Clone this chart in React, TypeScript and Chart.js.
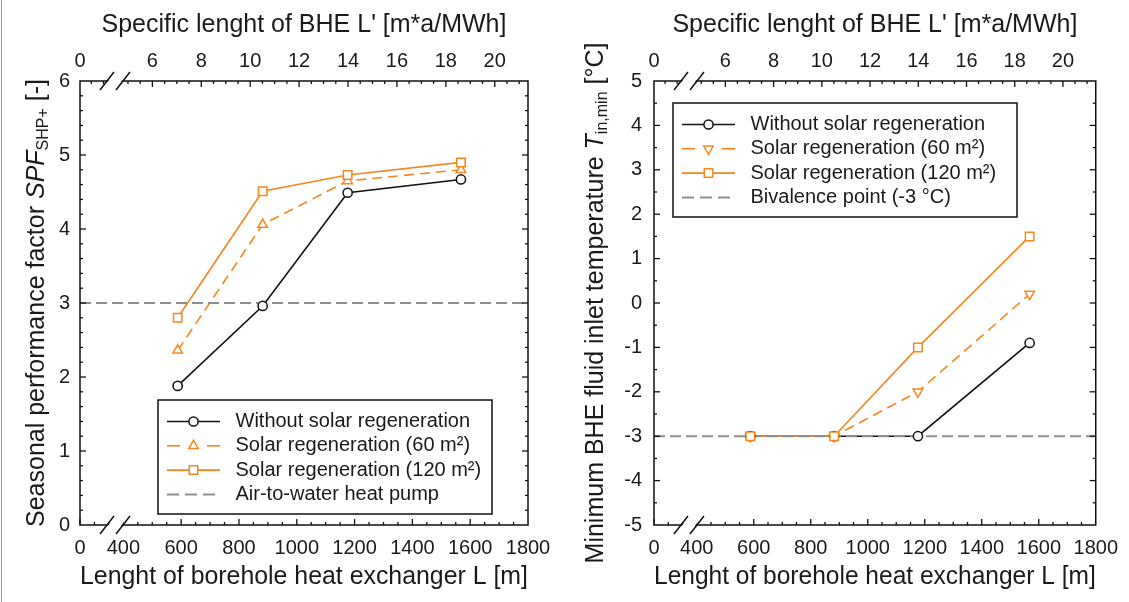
import React, { useEffect, useRef } from 'react';
import { Chart, registerables } from 'chart.js';

Chart.register(...registerables);

const FONT = '"Liberation Sans", Arial, Helvetica, sans-serif';
const TEXT = '#1a1a1a';
const BLACK = '#111111';
const ORANGE = '#F6861F';
const GRAY = '#8E8E8E';

// ---------------- data ----------------
const boreholeLength = [588, 882, 1176, 1568]; // L [m]

const spfWithoutSolar = [1.88, 2.96, 4.49, 4.67];
const spfSolar60 = [2.36, 4.06, 4.65, 4.8];
const spfSolar120 = [2.8, 4.51, 4.73, 4.9];
const spfAirToWater = 3.0;

const tinWithoutSolar = [-3, -3, -3, -0.9];
const tinSolar60 = [-3, -3, -2.0, 0.2];
const tinSolar120 = [-3, -3, -1.0, 1.5];
const tinBivalence = -3;

// ---------------- axes ----------------
const lengthAxisMin = 250; // position of the broken "0"
const lengthAxisMax = 1800;
const lengthTicks = [250, 400, 600, 800, 1000, 1200, 1400, 1600, 1800];
const lengthTickLabels = ['0', '400', '600', '800', '1000', '1200', '1400', '1600', '1800'];
const lengthMinorStep = 50;

const specificAxisMin = 3.04; // position of the broken "0"
const specificAxisMax = 21.36;
const specificTicks = [3.04, 6, 8, 10, 12, 14, 16, 18, 20];
const specificTickLabels = ['0', '6', '8', '10', '12', '14', '16', '18', '20'];
const specificMinorStep = 0.5;

const spfAxis = { min: 0, max: 6, step: 1, minor: 0.2 };
const tinAxis = { min: -5, max: 5, step: 1, minor: 0.5 };

const legendSpf = ['Without solar regeneration', 'Solar regeneration (60 m²)', 'Solar regeneration (120 m²)', 'Air-to-water heat pump'];
const legendTin = ['Without solar regeneration', 'Solar regeneration (60 m²)', 'Solar regeneration (120 m²)', 'Bivalence point (-3 °C)'];

const bottomTitle = 'Lenght of borehole heat exchanger L [m]';
const topTitle = "Specific lenght of BHE L' [m*a/MWh]";

// ---------------- helpers ----------------
type Part = { text: string; font: string; dy: number };

function drawMarker(ctx: CanvasRenderingContext2D, style: string, x: number, y: number, r: number, rotation: number, color: string) {
  ctx.save();
  ctx.setLineDash([]);
  ctx.fillStyle = '#ffffff';
  ctx.strokeStyle = color;
  ctx.lineWidth = 1.5;
  ctx.beginPath();
  if (style === 'circle') {
    ctx.arc(x, y, r, 0, Math.PI * 2);
  } else if (style === 'rect') {
    const s = r * Math.SQRT1_2;
    ctx.rect(x - s, y - s, 2 * s, 2 * s);
  } else {
    const rad = (rotation * Math.PI) / 180;
    for (let i = 0; i < 3; i++) {
      const ang = rad + (i * 2 * Math.PI) / 3;
      const px = x + Math.sin(ang) * r;
      const py = y - Math.cos(ang) * r;
      if (i === 0) ctx.moveTo(px, py);
      else ctx.lineTo(px, py);
    }
    ctx.closePath();
  }
  ctx.fill();
  ctx.stroke();
  ctx.restore();
}

type Series = { label: string; values: number[]; color: string; dashed: boolean; style: string; radius: number; rotation: number };

type PanelSpec = {
  yAxis: { min: number; max: number; step: number; minor: number };
  series: Series[]; // ordered: 120, 60, without (top to bottom markers)
  legendOrder: Series[];
  refValue: number;
  refLabel: string;
  yTitle: Part[];
  yTitleX: number;
  yTickPadding: number;
  rightPadding: number;
  legendBox: { x: number; y: number; w: number; h: number };
};

function makePlugin(spec: PanelSpec) {
  return {
    id: 'frameAndDecor',
    afterDatasetsDraw(chart: any) {
      const { ctx, chartArea: a, scales } = chart;
      const seg = (x1: number, y1: number, x2: number, y2: number) => {
        ctx.beginPath();
        ctx.moveTo(x1, y1);
        ctx.lineTo(x2, y2);
        ctx.stroke();
      };
      const near = (v: number, list: number[]) => list.some((m) => Math.abs(m - v) < 1e-6);
      ctx.save();
      ctx.setLineDash([]);
      ctx.strokeStyle = BLACK;
      ctx.lineWidth = 1.5;
      ctx.strokeRect(a.left, a.top, a.right - a.left, a.bottom - a.top);

      ctx.lineWidth = 1.3;
      // bottom axis ticks
      const xs = scales.x;
      for (let v = Math.ceil(xs.min / lengthMinorStep) * lengthMinorStep; v < xs.max - 1e-6; v += lengthMinorStep) {
        const px = xs.getPixelForValue(v);
        const len = near(v, lengthTicks) ? 6 : 3;
        seg(px, a.bottom, px, a.bottom - len);
      }
      // top axis ticks
      const xt = scales.x2;
      for (let v = Math.ceil(xt.min / specificMinorStep) * specificMinorStep; v < xt.max - 1e-6; v += specificMinorStep) {
        const px = xt.getPixelForValue(v);
        const len = near(v, specificTicks) ? 6 : 3;
        seg(px, a.top, px, a.top + len);
      }
      // y ticks on both sides
      const ys = scales.y;
      const ya = spec.yAxis;
      const n = Math.round((ya.max - ya.min) / ya.minor);
      for (let i = 1; i < n; i++) {
        const v = ya.min + i * ya.minor;
        const py = ys.getPixelForValue(v);
        const k = (v - ya.min) / ya.step;
        const major = Math.abs(k - Math.round(k)) < 1e-6;
        const len = major ? 6 : 3;
        seg(a.left, py, a.left + len, py);
        seg(a.right, py, a.right - len, py);
      }

      // axis breaks
      const drawBreak = (y: number) => {
        const c1 = a.left + 27;
        const c2 = a.left + 43;
        const dx = 7;
        const dy = 9;
        ctx.fillStyle = '#ffffff';
        ctx.beginPath();
        ctx.moveTo(c1 - dx + 1.5, y + dy);
        ctx.lineTo(c1 + dx + 1.5, y - dy);
        ctx.lineTo(c2 + dx - 1.5, y - dy);
        ctx.lineTo(c2 - dx - 1.5, y + dy);
        ctx.closePath();
        ctx.fill();
        ctx.strokeStyle = BLACK;
        ctx.lineWidth = 1.5;
        seg(c1 - dx, y + dy, c1 + dx, y - dy);
        seg(c2 - dx, y + dy, c2 + dx, y - dy);
      };
      drawBreak(a.bottom);
      drawBreak(a.top);
      ctx.restore();
    },
    afterDraw(chart: any) {
      const { ctx, chartArea: a } = chart;
      ctx.save();
      // y title with italic symbol and subscript
      ctx.translate(spec.yTitleX, (a.top + a.bottom) / 2);
      ctx.rotate(-Math.PI / 2);
      ctx.fillStyle = TEXT;
      ctx.textBaseline = 'alphabetic';
      ctx.textAlign = 'left';
      let total = 0;
      for (const p of spec.yTitle) {
        ctx.font = p.font;
        total += ctx.measureText(p.text).width;
      }
      let x = -total / 2;
      for (const p of spec.yTitle) {
        ctx.font = p.font;
        ctx.fillText(p.text, x, p.dy);
        x += ctx.measureText(p.text).width;
      }
      ctx.restore();

      // legend
      const b = spec.legendBox;
      ctx.save();
      ctx.fillStyle = '#ffffff';
      ctx.fillRect(b.x, b.y, b.w, b.h);
      ctx.strokeStyle = BLACK;
      ctx.lineWidth = 1.5;
      ctx.setLineDash([]);
      ctx.strokeRect(b.x, b.y, b.w, b.h);
      const x0 = b.x + 9;
      const x1 = b.x + 62;
      const xm = b.x + 35.5;
      ctx.font = `20px ${FONT}`;
      ctx.textBaseline = 'middle';
      ctx.textAlign = 'left';
      const rows = [...spec.legendOrder.map((s) => ({ ...s, ref: false })), { label: spec.refLabel, color: GRAY, dashed: true, style: '', radius: 0, rotation: 0, values: [], ref: true }];
      rows.forEach((s, i) => {
        const y = b.y + 21.5 + i * 24.3;
        ctx.strokeStyle = s.color;
        if (s.ref) {
          ctx.lineWidth = 2;
          ctx.setLineDash([12, 6]);
          ctx.beginPath();
          ctx.moveTo(x0, y);
          ctx.lineTo(x1 - 4, y);
          ctx.stroke();
        } else {
          ctx.lineWidth = 1.6;
          if (s.dashed) {
            ctx.setLineDash([13, 40]);
            ctx.beginPath();
            ctx.moveTo(x0, y);
            ctx.lineTo(xm, y);
            ctx.stroke();
            ctx.beginPath();
            ctx.moveTo(x1, y);
            ctx.lineTo(xm, y);
            ctx.stroke();
          } else {
            ctx.setLineDash([]);
            ctx.beginPath();
            ctx.moveTo(x0, y);
            ctx.lineTo(x1, y);
            ctx.stroke();
          }
          drawMarker(ctx, s.style, xm, y, s.radius, s.rotation, s.color);
        }
        ctx.setLineDash([]);
        ctx.fillStyle = TEXT;
        ctx.fillText(s.label, b.x + 77.5, y);
      });
      ctx.restore();
    },
  };
}

function buildConfig(spec: PanelSpec): any {
  const pts = (values: number[]) => boreholeLength.map((x, i) => ({ x, y: values[i] }));
  const markerSets = spec.series.map((s) => ({
    label: s.label + ' markers',
    data: pts(s.values),
    showLine: false,
    pointStyle: s.style,
    pointRadius: s.radius,
    pointHoverRadius: s.radius,
    pointRotation: s.rotation,
    pointBorderWidth: 1.5,
    pointBorderColor: s.color,
    pointBackgroundColor: '#ffffff',
    borderColor: s.color,
    order: 0,
  }));
  const refSet = {
    label: spec.refLabel,
    data: [
      { x: lengthAxisMin, y: spec.refValue },
      { x: lengthAxisMax, y: spec.refValue },
    ],
    borderColor: GRAY,
    borderWidth: 2,
    borderDash: [11, 5],
    pointRadius: 0,
    pointHoverRadius: 0,
    fill: false,
    order: 1,
  };
  const lineOrder = [spec.series[1], spec.series[0], spec.series[2]];
  const lineSets = lineOrder.map((s) => ({
    label: s.label,
    data: pts(s.values),
    borderColor: s.color,
    borderWidth: 1.6,
    borderDash: s.dashed ? [10, 6] : [],
    pointRadius: 0,
    pointHoverRadius: 0,
    fill: false,
    tension: 0,
    order: 2,
  }));

  const tickFont = { family: FONT, size: 20 };
  return {
    type: 'line',
    data: { datasets: [...markerSets, refSet, ...lineSets] },
    options: {
      responsive: false,
      maintainAspectRatio: false,
      animation: false,
      devicePixelRatio: 1,
      events: [],
      layout: { padding: { left: 0, top: 0, bottom: 0, right: spec.rightPadding } },
      plugins: { legend: { display: false }, tooltip: { enabled: false } },
      scales: {
        x: {
          type: 'linear',
          position: 'bottom',
          min: lengthAxisMin,
          max: lengthAxisMax,
          afterBuildTicks: (s: any) => {
            s.ticks = lengthTicks.map((v) => ({ value: v }));
          },
          afterFit: (s: any) => {
            s.height = 77;
          },
          grid: { display: false, drawTicks: false },
          border: { display: false },
          ticks: {
            autoSkip: false,
            maxRotation: 0,
            minRotation: 0,
            padding: 11,
            color: TEXT,
            font: tickFont,
            callback: (_v: any, i: number) => lengthTickLabels[i],
          },
          title: {
            display: true,
            text: bottomTitle,
            color: TEXT,
            font: { family: FONT, size: 25 },
            padding: { top: 0, bottom: 9.5 },
          },
        },
        x2: {
          type: 'linear',
          position: 'top',
          min: specificAxisMin,
          max: specificAxisMax,
          afterBuildTicks: (s: any) => {
            s.ticks = specificTicks.map((v) => ({ value: v }));
          },
          afterFit: (s: any) => {
            s.height = 81;
          },
          grid: { display: false, drawTicks: false },
          border: { display: false },
          ticks: {
            autoSkip: false,
            maxRotation: 0,
            minRotation: 0,
            padding: 8,
            color: TEXT,
            font: tickFont,
            callback: (_v: any, i: number) => specificTickLabels[i],
          },
          title: {
            display: true,
            text: topTitle,
            color: TEXT,
            font: { family: FONT, size: 25 },
            padding: { top: 10.3, bottom: 0 },
          },
        },
        y: {
          type: 'linear',
          position: 'left',
          min: spec.yAxis.min,
          max: spec.yAxis.max,
          afterFit: (s: any) => {
            s.width = 80;
          },
          grid: { display: false, drawTicks: false },
          border: { display: false },
          ticks: {
            stepSize: spec.yAxis.step,
            autoSkip: false,
            padding: spec.yTickPadding,
            color: TEXT,
            font: tickFont,
            callback: (v: any) => String(v),
          },
        },
      },
    },
    plugins: [makePlugin(spec)],
  };
}

// ---------------- panels ----------------
const spfSeries: Series[] = [
  { label: 'Solar regeneration (120 m²)', values: spfSolar120, color: ORANGE, dashed: false, style: 'rect', radius: 6, rotation: 0 },
  { label: 'Solar regeneration (60 m²)', values: spfSolar60, color: ORANGE, dashed: true, style: 'triangle', radius: 5.5, rotation: 0 },
  { label: 'Without solar regeneration', values: spfWithoutSolar, color: BLACK, dashed: false, style: 'circle', radius: 4.6, rotation: 0 },
];
const tinSeries: Series[] = [
  { label: 'Solar regeneration (120 m²)', values: tinSolar120, color: ORANGE, dashed: false, style: 'rect', radius: 6, rotation: 0 },
  { label: 'Solar regeneration (60 m²)', values: tinSolar60, color: ORANGE, dashed: true, style: 'triangle', radius: 5.5, rotation: 180 },
  { label: 'Without solar regeneration', values: tinWithoutSolar, color: BLACK, dashed: false, style: 'circle', radius: 4.6, rotation: 0 },
];

const spfPanel: PanelSpec = {
  yAxis: spfAxis,
  series: spfSeries,
  legendOrder: [
    { ...spfSeries[2], label: legendSpf[0] },
    { ...spfSeries[1], label: legendSpf[1] },
    { ...spfSeries[0], label: legendSpf[2] },
  ],
  refValue: spfAirToWater,
  refLabel: legendSpf[3],
  yTitle: [
    { text: 'Seasonal performance factor ', font: `25px ${FONT}`, dy: 0 },
    { text: 'SPF', font: `italic 25px ${FONT}`, dy: 0 },
    { text: 'SHP+', font: `16px ${FONT}`, dy: 4 },
    { text: ' [-]', font: `25px ${FONT}`, dy: 0 },
  ],
  yTitleX: 44,
  yTickPadding: 10,
  rightPadding: 46,
  legendBox: { x: 158, y: 400, w: 334, h: 114 },
};

const tinPanel: PanelSpec = {
  yAxis: tinAxis,
  series: tinSeries,
  legendOrder: [
    { ...tinSeries[2], label: legendTin[0] },
    { ...tinSeries[1], label: legendTin[1] },
    { ...tinSeries[0], label: legendTin[2] },
  ],
  refValue: tinBivalence,
  refLabel: legendTin[3],
  yTitle: [
    { text: 'Minimum BHE fluid inlet temperature ', font: `25px ${FONT}`, dy: 0 },
    { text: 'T', font: `italic 25px ${FONT}`, dy: 0 },
    { text: 'in,min', font: `16px ${FONT}`, dy: 4 },
    { text: ' [°C]', font: `25px ${FONT}`, dy: 0 },
  ],
  yTitleX: 29,
  yTickPadding: 12,
  rightPadding: 27,
  legendBox: { x: 99, y: 103, w: 344, h: 114 },
};

function Panel({ left, width, spec }: { left: number; width: number; spec: PanelSpec }) {
  const ref = useRef<HTMLCanvasElement>(null);
  useEffect(() => {
    if (!ref.current) return;
    const chart = new Chart(ref.current, buildConfig(spec));
    return () => chart.destroy();
  }, [spec]);
  return (
    <canvas
      ref={ref}
      width={width}
      height={602}
      style={{ position: 'absolute', left, top: 0, width, height: 602, display: 'block' }}
    />
  );
}

export default function App() {
  Chart.defaults.font.family = FONT;
  return (
    <div style={{ position: 'absolute', left: 0, top: 0, width: 1129, height: 602, background: '#ffffff', overflow: 'hidden' }}>
      <Panel left={0} width={574} spec={spfPanel} />
      <Panel left={574} width={555} spec={tinPanel} />
      <div style={{ position: 'absolute', left: 1, top: 0, width: 1, height: 602, background: '#9a9a9a' }} />
    </div>
  );
}
